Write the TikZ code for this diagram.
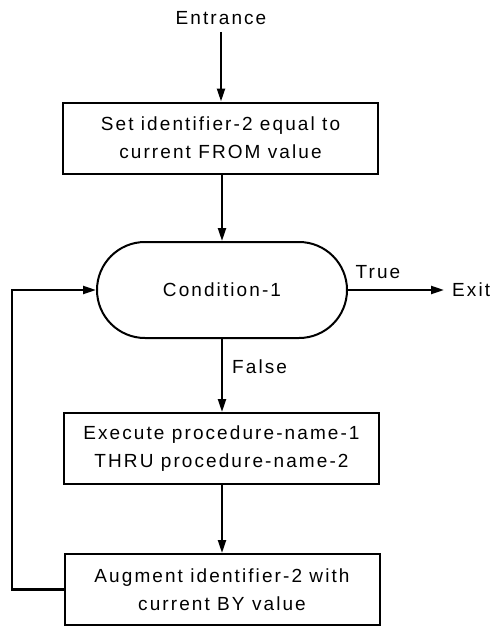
\documentclass[tikz,border=0pt]{standalone}
\usepackage{fontspec}
\setmainfont{Liberation Sans}[LetterSpace=11]
\usetikzlibrary{arrows.meta}
\begin{document}
\begin{tikzpicture}[x=1pt,y=-1pt,
  every node/.style={font=\fontsize{19pt}{28pt}\selectfont},
  box/.style={draw, line width=2pt, minimum width=315pt, minimum height=71pt, align=center, inner sep=0pt},
  term/.style={draw, line width=2pt, minimum width=250pt, minimum height=96pt, rounded corners=48pt, inner sep=0pt},
  flow/.style={line width=2.2pt, -{Triangle[length=13pt,width=8pt]}},
  lbl/.style={inner sep=0pt}]
\useasboundingbox (0,0) rectangle (494,626);
\node[lbl] (ent) at (221,18) {Entrance};
\node[box] (b1) at (220.5,138) {Set identifier-2 equal to\\current FROM value};
\node[term] (c1) at (222,290) {Condition-1};
\node[lbl, anchor=west] (exit) at (452,290) {Exit};
\node[lbl] (true) at (378,272) {True};
\node[lbl, anchor=west] (false) at (232,367) {False};
\node[box] (b2) at (221.5,448.5) {Execute procedure-name-1\\THRU procedure-name-2};
\node[box] (b3) at (222,589.5) {Augment identifier-2 with\\current BY value};
\coordinate (lp) at (12,0);
\draw[flow, shorten <=7pt] (ent.south) -- (ent.south |- b1.north);
\draw[flow] (b1.south -| c1.north) -- (c1.north);
\draw[flow, shorten >=8pt] (c1.east) -- (exit.west);
\draw[flow] (c1.south) -- (c1.south |- b2.north);
\draw[flow] (b2.south -| c1.south) -- (c1.south |- b3.north);
\draw[flow] (b3.west) -- (lp |- b3.west) -- (lp |- c1.west) -- (c1.west);
\end{tikzpicture}
\end{document}
